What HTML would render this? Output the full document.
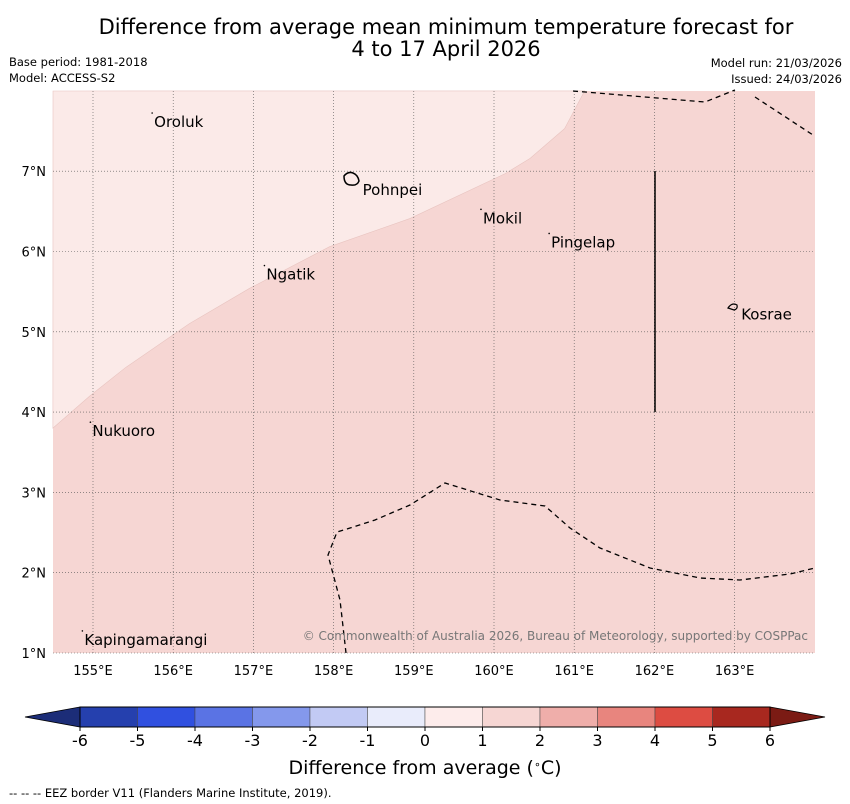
<!DOCTYPE html>
<html><head><meta charset="utf-8"><style>
body{margin:0;background:#fff;font-family:"DejaVu Sans","Liberation Sans",sans-serif;}
svg{display:block}
</style></head><body>
<svg id="c" width="850" height="804" xmlns="http://www.w3.org/2000/svg">
<text x="446" y="34" text-anchor="middle" font-size="21">Difference from average mean minimum temperature forecast for</text>
<text x="446" y="56" text-anchor="middle" font-size="21">4 to 17 April 2026</text>
<text x="9" y="66" font-size="11.5">Base period: 1981-2018</text>
<text x="9" y="82" font-size="11.5">Model: ACCESS-S2</text>
<text x="842" y="67" font-size="11.5" text-anchor="end">Model run: 21/03/2026</text>
<text x="842" y="83" font-size="11.5" text-anchor="end">Issued: 24/03/2026</text>
<g id="map"></g>
<g id="cb"></g>
<text x="425" y="774" text-anchor="middle" font-size="19">Difference from average (<tspan baseline-shift="super" font-size="11">∘</tspan>C)</text>
<text x="9" y="797" font-size="11.5">--  --  -- EEZ border V11 (Flanders Marine Institute, 2019).</text>
</svg>
<script>
const lonTicks=[155,156,157,158,159,160,161,162,163];
const latTicks=[1,2,3,4,5,6,7];
const places=["Oroluk","Pohnpei","Mokil","Pingelap","Ngatik","Kosrae","Nukuoro","Kapingamarangi"];
const placeLon=[155.75,158.35,159.85,160.7,157.15,163.07,154.98,154.88];
const placeLat=[7.7,6.85,6.5,6.2,5.8,5.3,3.85,1.25];
const boundaryLon=[154.5,154.96,155.4,156.2,156.95,157.95,158.95,160.14,160.45,160.88,161.13];
const boundaryLat=[3.8,4.2,4.55,5.1,5.54,6.06,6.41,6.97,7.16,7.53,8.0];
const colorLevels=[-6,-5,-4,-3,-2,-1,0,1,2,3,4,5,6];
const colors=["#2540ae","#3050e0","#5a73e4","#8498ec","#c2caf4","#e9ecfb","#fdeceb","#f6d6d3","#efaeaa","#e8857e","#dd4c42","#a8281f"];
const X=l=>93+(l-155)*80.2, Y=l=>653-(l-1)*80.3;
const NS="http://www.w3.org/2000/svg";
function mk(p,t,a){const e=document.createElementNS(NS,t);for(const k in a)e.setAttribute(k,a[k]);p.appendChild(e);return e;}
const m=document.getElementById('map');
const r=mk(m,'rect',{x:53,y:91,width:762,height:562,fill:'#f6d6d3'});


let pts=boundaryLon.map((l,i)=>X(l)+','+Y(boundaryLat[i])).join(' ');
const lp=mk(m,'polygon',{points:pts+' 53,91',fill:'#fbeae8',stroke:'#e8c4c0','stroke-width':0.6});


lonTicks.forEach(l=>{const g=mk(m,'line',{x1:X(l),x2:X(l),y1:91,y2:653,stroke:'#555','stroke-width':0.6,'stroke-dasharray':'1,2'});


const t=mk(m,'text',{x:X(l),y:675,'text-anchor':'middle','font-size':13});t.textContent=l+'°E';

});
latTicks.forEach(l=>{const g=mk(m,'line',{x1:53,x2:815,y1:Y(l),y2:Y(l),stroke:'#555','stroke-width':0.6,'stroke-dasharray':'1,2'});


const t=mk(m,'text',{x:46,y:Y(l)+5,'text-anchor':'end','font-size':13});t.textContent=l+'°N';

});
const e1=mk(m,'polyline',{points:'573,91 705,102 735,90',fill:'none',stroke:'#000','stroke-width':1.3,'stroke-dasharray':'5,4'});


const e2=mk(m,'polyline',{points:'755,97 813,135',fill:'none',stroke:'#000','stroke-width':1.3,'stroke-dasharray':'5,4'});


const e3=mk(m,'polyline',{points:'346,653 340,600 328,555 337,532 350,528 375,520 410,505 445,483 500,500 545,506 570,528 600,548 650,568 700,578 740,580 790,574 815,568',fill:'none',stroke:'#000','stroke-width':1.3,'stroke-dasharray':'5,4'});


const vl=mk(m,'line',{x1:655,x2:655,y1:171,y2:412,stroke:'#000','stroke-width':1.5});


const pi=mk(m,'path',{d:'M344,176 q4,-5 9,-3 q5,2 6,8 q-2,5 -8,4 q-7,0 -7,-9 z',fill:'none',stroke:'#000','stroke-width':1.5});


const ki=mk(m,'path',{d:'M728,308 q4,-6 9,-3 q1,4 -3,5 z',fill:'none',stroke:'#000','stroke-width':1.2});


places.forEach((p,i)=>{const x=X(placeLon[i]),y=Y(placeLat[i]);
if(p!=='Pohnpei'&&p!=='Kosrae'){const d=mk(m,'circle',{cx:x-1,cy:y-2,r:0.8,fill:'#000'});

}
const t=mk(m,'text',{x:x+1,y:y+12,'font-size':15});t.textContent=p;

});
const cr=mk(m,'text',{x:808,y:640,'text-anchor':'end','font-size':12,fill:'#777'});cr.textContent='© Commonwealth of Australia 2026, Bureau of Meteorology, supported by COSPPac';


const cb=document.getElementById('cb');
const CX=v=>425+v*57.5;
const la=mk(cb,'polygon',{points:'80,707 25,717 80,727',fill:'#1c2d78',stroke:'#000','stroke-width':0.8});


const ra=mk(cb,'polygon',{points:'770,707 825,717 770,727',fill:'#7b1b14',stroke:'#000','stroke-width':0.8});


colors.forEach((c,i)=>{const s=mk(cb,'rect',{x:CX(colorLevels[i]),y:707,width:CX(colorLevels[i+1])-CX(colorLevels[i]),height:20,fill:c,stroke:'#444','stroke-width':0.5});

});
const fr=mk(cb,'rect',{x:80,y:707,width:690,height:20,fill:'none',stroke:'#000','stroke-width':1});


colorLevels.forEach(v=>{const tk=mk(cb,'line',{x1:CX(v),x2:CX(v),y1:727,y2:731,stroke:'#000'});


const t=mk(cb,'text',{x:CX(v),y:746,'text-anchor':'middle','font-size':16});t.textContent=v;

});
</script>
</body></html>
